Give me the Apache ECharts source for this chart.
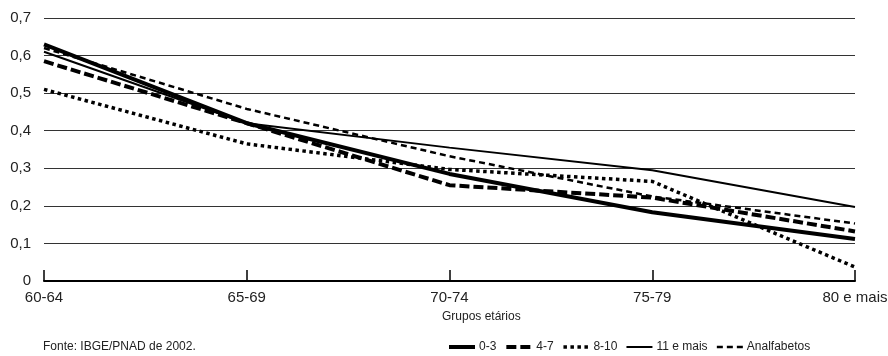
<!DOCTYPE html>
<html>
<head>
<meta charset="utf-8">
<script src="https://cdn.jsdelivr.net/npm/echarts@6/dist/echarts.min.js"></script>
<style>
  html, body { margin: 0; padding: 0; background: #fff; }
  #main { width: 888px; height: 356px; }
</style>
</head>
<body>
<div id="main"></div>
<script>
var chartDom = document.getElementById('main');
var myChart = echarts.init(chartDom);
var option;

// faixas etárias
var grupos = ['60-64', '65-69', '70-74', '75-79', '80 e mais'];

// anos de estudo
var anos0a3 = [0.63, 0.42, 0.285, 0.183, 0.112];
var anos4a7 = [0.585, 0.42, 0.255, 0.222, 0.132];
var anos8a10 = [0.51, 0.365, 0.297, 0.265, 0.037];
var anos11mais = [0.61, 0.42, 0.355, 0.295, 0.197];
var analfabetos = [0.62, 0.458, 0.332, 0.225, 0.153];

var fonte = "'Liberation Sans', Arial, sans-serif";

function linha(nome, dados, largura, tipo) {
  return {
    name: nome,
    type: 'line',
    data: dados,
    symbol: 'none',
    lineStyle: { color: '#000', width: largura, type: tipo },
    itemStyle: { color: '#000' }
  };
}

option = {
  animation: false,
  textStyle: { fontFamily: fonte },
  grid: { left: 44, right: 33, top: 18, bottom: 75, outerBoundsMode: 'none' },
  xAxis: {
    type: 'category',
    data: grupos,
    boundaryGap: false,
    axisLine: { lineStyle: { color: '#000', width: 2 } },
    axisTick: { inside: true, length: 11, lineStyle: { color: '#000', width: 1.5 } },
    axisLabel: { color: '#222', fontSize: 15, margin: 9, fontFamily: fonte },
    splitLine: { show: false }
  },
  yAxis: {
    type: 'value',
    min: 0,
    max: 0.7,
    interval: 0.1,
    axisLine: { show: false },
    axisTick: { show: false },
    axisLabel: {
      color: '#222', fontSize: 15, margin: 13, fontFamily: fonte,
      formatter: function (v) { return v === 0 ? '0' : v.toFixed(1).replace('.', ','); }
    },
    splitLine: { lineStyle: { color: '#333', width: 1.2 } }
  },
  legend: {
    left: 447,
    top: 341,
    padding: 0,
    itemWidth: 26,
    itemHeight: 14,
    itemGap: 8,
    itemStyle: { opacity: 0 },
    textStyle: { color: '#222', fontSize: 12, fontFamily: fonte, padding: [0, 0, 0, -1] },
    data: [
      { name: '0-3', lineStyle: { width: 4 } },
      { name: '4-7', lineStyle: { width: 4 } },
      { name: '8-10', lineStyle: { width: 3.5 } },
      { name: '11 e mais', lineStyle: { width: 2 } },
      { name: 'Analfabetos', lineStyle: { width: 2.5 } }
    ]
  },
  graphic: [
    { type: 'text', left: 442, top: 311, style: { text: 'Grupos etários', fill: '#222', font: '12px ' + fonte } },
    { type: 'text', left: 43, top: 341, style: { text: 'Fonte: IBGE/PNAD de 2002.', fill: '#222', font: '12px ' + fonte } }
  ],
  series: [
    linha('0-3', anos0a3, 4, 'solid'),
    linha('4-7', anos4a7, 4, [10, 4]),
    linha('8-10', anos8a10, 3.5, [3.5, 3.5]),
    linha('11 e mais', anos11mais, 2, 'solid'),
    linha('Analfabetos', analfabetos, 2.5, [6, 4])
  ]
};

option && myChart.setOption(option);
</script>
</body>
</html>
